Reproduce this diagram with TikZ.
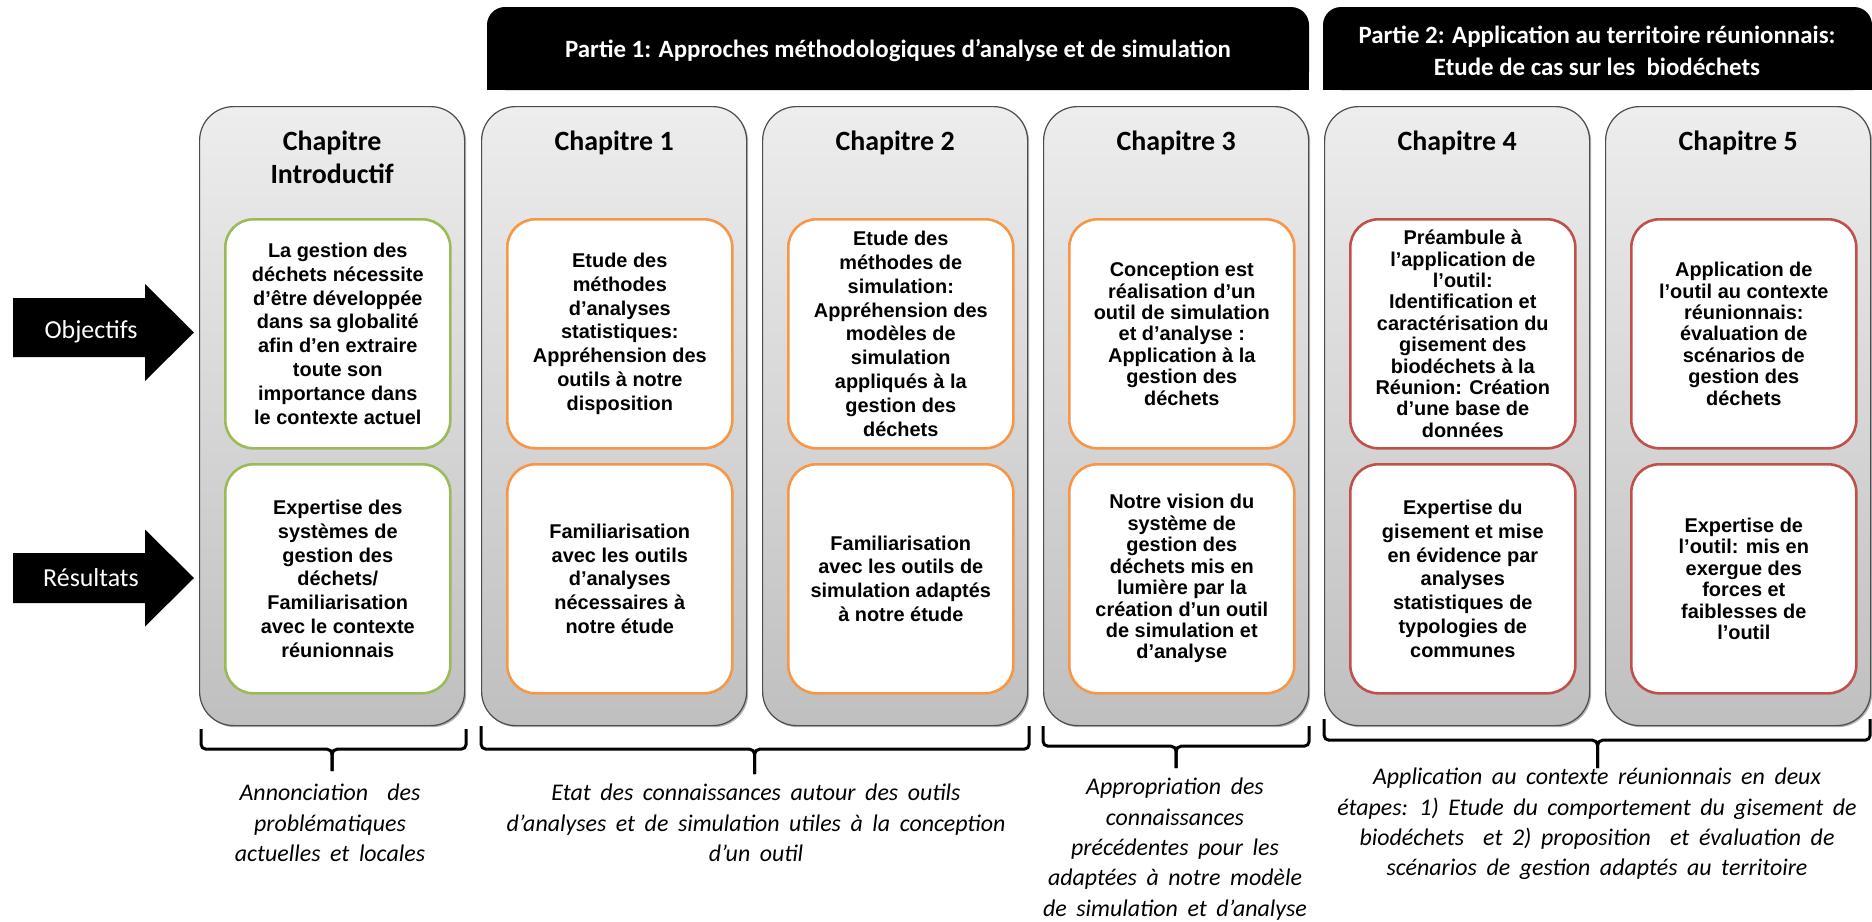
\documentclass[tikz,border=0pt]{standalone}
\usepackage{fontspec}
\setmainfont{Carlito}
\newfontfamily\innerfont{Liberation Sans}
\usetikzlibrary{calc}
\definecolor{gbord}{HTML}{9BBB59}
\definecolor{obord}{HTML}{F79646}
\definecolor{rbord}{HTML}{C0504D}
\newcommand\widespaces{\spaceskip 0.4em\relax}
\begin{document}
\begin{tikzpicture}[x=1bp,y=-1bp,
  colbox/.style={draw=black!70, line width=1.2bp, rounded corners=34bp, top color=black!7, bottom color=black!25, minimum width=265bp, minimum height=619bp, inner sep=0pt, anchor=north west},
  colshadow/.style={fill=black!30, rounded corners=34bp, minimum width=265bp, minimum height=619bp, inner sep=0pt, anchor=north west},
  ibox/.style={fill=white, line width=2.6bp, rounded corners=28bp, minimum width=225bp, minimum height=229bp, inner sep=0pt, align=center, anchor=north west, font=\innerfont\bfseries\fontsize{20}{24}\selectfont},
  tightlead/.style={font=\innerfont\bfseries\fontsize{20}{21.5}\selectfont},
  chtitle/.style={font=\bfseries\fontsize{28}{33}\selectfont, anchor=base, inner sep=0pt},
  hdr/.style={text=white, font=\bfseries\fontsize{25}{32}\selectfont, align=center, inner sep=0pt},
  ntext/.style={font={\itshape\fontsize{24}{30.5}\selectfont\widespaces}, align=center, inner sep=0pt, anchor=north},
  arrowtxt/.style={text=white, font=\fontsize{26}{30}\selectfont, inner sep=0pt},
  brc/.style={line width=3bp, rounded corners=5bp},
]
\useasboundingbox (0,0) rectangle (1872,922);
\fill[white] (0,0) rectangle (1872,922);

% headers
\fill[black, rounded corners=18bp] (487,7) rectangle (1309,90);
\fill[black] (487,50) rectangle (1309,90);
\node (p1) [hdr] at (898,51) {Partie 1: Approches méthodologiques d’analyse et de simulation};
\fill[black, rounded corners=18bp] (1323,7) rectangle (1872,90);
\fill[black] (1323,50) rectangle (1872,90);
\node (p2) [hdr] at (1597,51) {Partie 2: Application au territoire réunionnais:\\Etude de cas sur les\ \ biodéchets};

% column shadows
\foreach \i/\x in {0/199,1/481,2/762,3/1043,4/1324,5/1605}
  \node (sh\i) [colshadow] at (\x+2,108) {};

% columns
\node (col0) [colbox] at (199,106) {};
\node (col1) [colbox] at (481,106) {};
\node (col2) [colbox] at (762,106) {};
\node (col3) [colbox] at (1043,106) {};
\node (col4) [colbox] at (1324,106) {};
\node (col5) [colbox] at (1605,106) {};

% titles
\node (t0) [chtitle, align=center, anchor=center] at ([yshift=-51bp]col0.north) {Chapitre\\Introductif};
\node (t1) [chtitle] at ([yshift=-44bp]col1.north) {Chapitre 1};
\node (t2) [chtitle] at ([yshift=-44bp]col2.north) {Chapitre 2};
\node (t3) [chtitle] at ([yshift=-44bp]col3.north) {Chapitre 3};
\node (t4) [chtitle] at ([yshift=-44bp]col4.north) {Chapitre 4};
\node (t5) [chtitle] at ([yshift=-44bp]col5.north) {Chapitre 5};

% objective boxes
\node (o0) [ibox, draw=gbord] at ([xshift=25bp,yshift=-112bp]col0.north west) {La gestion des\\déchets nécessite\\d’être développée\\dans sa globalité\\afin d’en extraire\\toute son\\importance dans\\le contexte actuel};
\node (o1) [ibox, draw=obord] at ([xshift=25bp,yshift=-112bp]col1.north west) {Etude des\\méthodes\\d’analyses\\statistiques:\\Appréhension des\\outils à notre\\disposition};
\node (o2) [ibox, draw=obord] at ([xshift=25bp,yshift=-112bp]col2.north west) {Etude des\\méthodes de\\simulation:\\Appréhension des\\modèles de\\simulation\\appliqués à la\\gestion des\\déchets};
\node (o3) [ibox, tightlead, draw=obord] at ([xshift=25bp,yshift=-112bp]col3.north west) {Conception est\\réalisation d’un\\outil de simulation\\et d’analyse :\\Application à la\\gestion des\\déchets};
\node (o4) [ibox, tightlead, draw=rbord] at ([xshift=25bp,yshift=-112bp]col4.north west) {Préambule à\\l’application de\\l’outil:\\Identification et\\caractérisation du\\gisement des\\biodéchets à la\\Réunion: Création\\d’une base de\\données};
\node (o5) [ibox, tightlead, draw=rbord] at ([xshift=25bp,yshift=-112bp]col5.north west) {Application de\\l’outil au contexte\\réunionnais:\\évaluation de\\scénarios de\\gestion des\\déchets};

% result boxes
\node (r0) [ibox, draw=gbord] at ([xshift=25bp,yshift=-357bp]col0.north west) {Expertise des\\systèmes de\\gestion des\\déchets/\\Familiarisation\\avec le contexte\\réunionnais};
\node (r1) [ibox, draw=obord] at ([xshift=25bp,yshift=-357bp]col1.north west) {Familiarisation\\avec les outils\\d’analyses\\nécessaires à\\notre étude};
\node (r2) [ibox, draw=obord] at ([xshift=25bp,yshift=-357bp]col2.north west) {Familiarisation\\avec les outils de\\simulation adaptés\\à notre étude};
\node (r3) [ibox, tightlead, draw=obord] at ([xshift=25bp,yshift=-357bp]col3.north west) {Notre vision du\\système de\\gestion des\\déchets mis en\\lumière par la\\création d’un outil\\de simulation et\\d’analyse};
\node (r4) [ibox, draw=rbord] at ([xshift=25bp,yshift=-357bp]col4.north west) {Expertise du\\gisement et mise\\en évidence par\\analyses\\statistiques de\\typologies de\\communes};
\node (r5) [ibox, tightlead, draw=rbord] at ([xshift=25bp,yshift=-357bp]col5.north west) {Expertise de\\l’outil: mis en\\exergue des\\forces et\\faiblesses de\\l’outil};

% arrows
\fill[black] (13,298) -- (145,298) -- (145,284) -- (194,332.5) -- (145,381) -- (145,357) -- (13,357) -- cycle;
\node (aobj) [arrowtxt] at (91,332) {Objectifs};
\fill[black] (13,553) -- (145,553) -- (145,529.5) -- (194,578) -- (145,626.5) -- (145,603) -- (13,603) -- cycle;
\node (ares) [arrowtxt] at (91,578) {Résultats};

% braces
\coordinate (m0) at (col0.south);
\coordinate (m12) at ($(col1.south west)!.5!(col2.south east)$);
\coordinate (m3) at (col3.south);
\coordinate (m45) at ($(col4.south west)!.5!(col5.south east)$);
\draw[brc] ([xshift=2bp,yshift=-3bp]col0.south west) |- ([yshift=-23bp]m0) -- ([yshift=-45bp]m0);
\draw[brc] ([xshift=1bp,yshift=-3bp]col0.south east) |- ([yshift=-23bp]m0) -- ([yshift=-45bp]m0);
\draw[brc] ([yshift=0bp]col1.south west) |- ([yshift=-23bp]m12) -- ([yshift=-48bp]m12);
\draw[brc] ([xshift=1bp,yshift=0bp]col2.south east) |- ([yshift=-23bp]m12) -- ([yshift=-48bp]m12);
\draw[brc] ([yshift=0bp]col3.south west) |- ([yshift=-20bp]m3) -- ([yshift=-42bp]m3);
\draw[brc] ([yshift=0bp]col3.south east) |- ([yshift=-20bp]m3) -- ([yshift=-42bp]m3);
\draw[brc] ([yshift=7bp]col4.south west) |- ([yshift=-14bp]m45) -- ([yshift=-42bp]m45);
\draw[brc] ([xshift=-1bp,yshift=7bp]col5.south east) |- ([yshift=-14bp]m45) -- ([yshift=-42bp]m45);

% notes
\node (n0) [ntext] at (330,784) {Annonciation\ \ des\\problématiques\\actuelles et locales};
\node (n1) [ntext] at (756,784) {Etat des connaissances autour des outils\\d’analyses et de simulation utiles à la conception\\d’un outil};
\node (n2) [ntext] at (1175,778) {Appropriation des\\connaissances\\précédentes pour les\\adaptées à notre modèle\\de simulation et d’analyse};
\node (n3) [ntext] at (1597,768) {Application au contexte réunionnais en deux\\étapes: 1) Etude du comportement du gisement de\\biodéchets\ \ et 2) proposition\ \ et évaluation de\\scénarios de gestion adaptés au territoire};
\end{tikzpicture}
\end{document}
